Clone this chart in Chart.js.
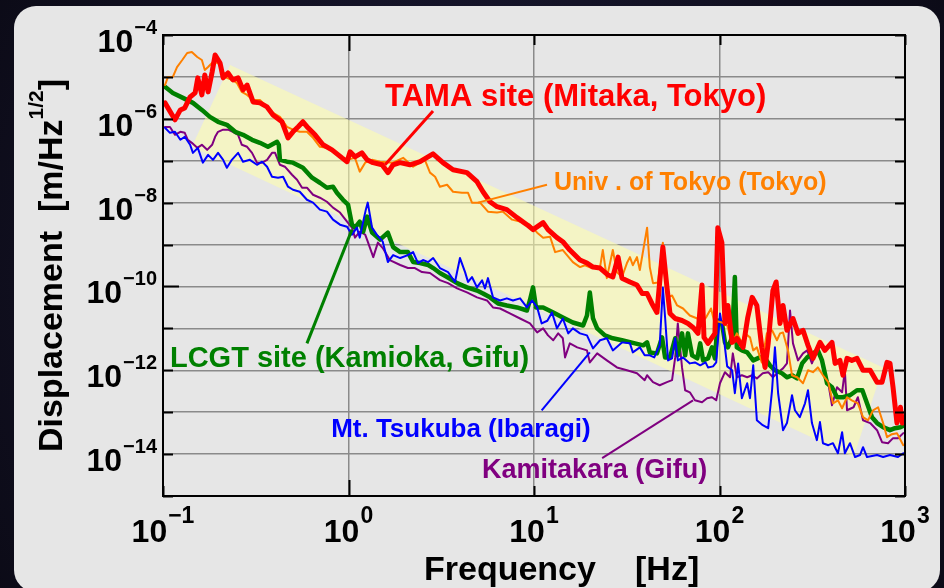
<!DOCTYPE html>
<html>
<head>
<meta charset="utf-8">
<script src="https://cdn.jsdelivr.net/npm/chart.js@4/dist/chart.umd.min.js"></script>
<style>
  html, body { margin: 0; padding: 0; background: #0b0a17; overflow: hidden; }
  canvas { display: block; }
</style>
</head>
<body>
<canvas id="chart" width="944" height="588"></canvas>
<script>
// Ground displacement spectra at candidate detector sites (frequency in Hz, displacement in m/Hz^1/2)

const tamaFreq = [
  0.1025,0.116,0.124,0.131,0.140,0.149,0.154,0.162,0.168,0.175,
  0.184,0.191,0.203,0.211,0.224,0.238,0.254,0.270,0.284,0.306,
  0.333,0.364,0.392,0.438,0.472,0.502,0.534,0.568,0.605,0.660,
  0.729,0.815,0.923,0.982,1.02,1.084,1.18,1.26,1.355,1.516,
  1.633,1.737,1.895,2.145,2.43,2.855,3.23,3.66,4.35,4.93,
  5.31,5.79,6.32,7.14,8.10,9.16,9.88,11.2,11.9,13.3,
  14.3,15.6,17.7,19.3,20.8,22.7,25.1,26.6,28.4,29.8,
  32.9,35.9,38.3,40.7,43.2,46.0,49.5,52.1,54.1,57.7,
  62.8,67.6,72.0,76.6,80.5,82.5,86.7,94.5,97.9,103,
  107,111,117,124,134,142,150,159,169,176,
  183,194,202,212,220,231,249,265,282,300,
  319,348,370,404,420,446,463,487,517,551,
  594,649,707,752,800,830,862,905,945,969,979
];
const tamaDisp = [
  2.4e-6,9.5e-7,1.63e-6,1.82e-6,3.33e-6,4.15e-6,9.5e-6,3.72e-6,1.11e-5,4.39e-6,
  1.31e-5,3.33e-5,2.15e-5,9.5e-6,1.24e-5,8.5e-6,9.5e-6,4.9e-6,6.4e-6,2.53e-6,
  2.4e-6,1.92e-6,1.24e-6,8.5e-7,3.52e-7,4.9e-7,6.4e-7,8.5e-7,6.1e-7,4.15e-7,
  2.4e-7,1.82e-7,1.17e-7,9.5e-8,1.63e-7,1.24e-7,1.54e-7,1.05e-7,9.0e-8,8.0e-8,
  5.2e-8,8.0e-8,9.0e-8,8.0e-8,9.5e-8,1.46e-7,9.0e-8,6.1e-8,5.2e-8,3.16e-8,
  1.82e-8,1.05e-8,8.0e-9,6.8e-9,4.39e-9,2.98e-9,2.27e-9,3.33e-9,2.27e-9,1.46e-9,
  1.17e-9,7.4e-10,4.27e-10,3.62e-10,2.9e-10,2.75e-10,1.87e-10,1.68e-10,5.0e-10,1.58e-10,
  1.28e-10,1.08e-10,6.8e-11,6.8e-11,3.93e-11,2.4e-11,8.7e-10,9.5e-11,2.27e-11,1.72e-11,
  1.54e-11,1.31e-11,1.05e-11,7.6e-12,1.08e-10,6.1e-12,4.39e-12,7.6e-12,2.53e-9,1.11e-9,
  1.31e-11,3.52e-11,4.63e-12,5.8e-12,3.52e-12,1.82e-11,5.5e-11,3.52e-11,3.52e-12,1.17e-12,
  4.39e-12,8.0e-11,1.28e-10,1.31e-11,3.52e-11,9.0e-12,1.72e-11,7.6e-12,9.0e-12,3.93e-12,
  1.92e-12,4.63e-12,2.98e-12,4.63e-12,1.46e-12,1.72e-12,7.6e-13,1.92e-12,1.72e-12,1.92e-12,
  1.0e-12,1.0e-12,5.2e-13,5.2e-13,1.54e-12,1.46e-12,3.93e-13,5.5e-14,1.31e-13,5.5e-14,6.4e-14
];

const univFreq = [
  0.1025,0.1064,0.113,0.119,0.127,0.135,0.143,0.153,0.162,0.168,
  0.175,0.186,0.198,0.211,0.221,0.235,0.250,0.266,0.284,0.306,
  0.333,0.364,0.392,0.427,0.466,0.502,0.546,0.597,0.644,0.701,
  0.765,0.825,0.900,0.982,1.084,1.15,1.23,1.34,1.48,1.737,
  1.97,2.23,2.58,2.75,2.93,3.11,3.40,3.66,4.09,4.41,
  4.63,5.12,5.65,6.32,6.81,7.62,8.4,9.5,10.4,11.2,
  12.2,13.0,14.3,16.2,17.7,18.8,20.5,22.7,23.5,24.7,
  26.6,28.0,29.8,31.7,32.9,34.1,35.9,37.2,40.7,42.1,
  43.8,46.6,49.5,52.8,55.5,59.1,63.6,69.2,75.9,79.6,
  84.6,90.0,93.4,103,110,117,124,132,137,146,
  152,159,169,180,192,204,212,220,234,246,
  262,282,300,319,339,361,386,409,435,458,
  487,517,557,594,632,673,716,762,800,850,905,979
];
const univDisp = [
  6.4e-6,1.0e-5,1.0e-5,1.72e-5,2.53e-5,3.72e-5,3.93e-5,2.98e-5,2.53e-5,1.46e-5,
  1.72e-5,2.27e-5,2.15e-5,1.31e-5,9.5e-6,8.5e-6,7.2e-6,4.39e-6,3.72e-6,2.83e-6,
  2.83e-6,1.92e-6,1.38e-6,1.11e-6,6.4e-7,5.5e-7,4.9e-7,4.9e-7,3.52e-7,2.15e-7,
  2.03e-7,1.63e-7,1.24e-7,1.05e-7,1.17e-7,5.5e-8,9.0e-8,1.05e-7,9.5e-8,9.0e-8,
  1.17e-7,7.2e-8,1.05e-7,5.2e-8,4.15e-8,2.4e-8,2.67e-8,1.82e-8,1.72e-8,1.72e-8,
  1.0e-8,1.0e-8,6.1e-9,5.8e-9,6.1e-9,3.93e-9,3.52e-9,2.98e-9,1.92e-9,1.46e-9,
  1.54e-9,6.6e-10,7.4e-10,3.82e-10,2.9e-10,3.2e-10,2.75e-10,2.9e-10,7.4e-10,1.58e-10,
  7.4e-10,2.2e-10,1.68e-10,3.62e-10,5.0e-10,3.2e-10,5.0e-10,2.47e-10,2.53e-9,2.9e-10,
  1.2e-10,1.25e-10,1.11e-9,5.5e-11,6.1e-11,3.52e-11,2.98e-11,2.03e-11,1.72e-11,1.38e-11,
  1.82e-11,2.98e-11,1.54e-11,1.38e-11,1.17e-11,4.39e-12,7.6e-12,4.63e-12,7.6e-12,6.1e-12,
  2.98e-12,3.52e-12,1.54e-12,7.6e-12,9.0e-12,5.2e-12,7.6e-12,8.0e-12,2.98e-12,7.6e-13,
  6.8e-13,4.9e-13,1.0e-12,9.0e-13,1.17e-12,7.6e-13,5.2e-13,1.63e-13,1.92e-13,1.24e-13,
  2.27e-13,1.92e-13,1.63e-13,7.6e-14,6.4e-14,1.11e-13,1.31e-13,5.5e-14,2.53e-14,2.98e-14,3.16e-14,1.63e-14
];

const lcgtFreq = [
  0.1025,0.113,0.128,0.145,0.162,0.179,0.198,0.221,0.245,0.270,
  0.302,0.333,0.368,0.412,0.421,0.427,0.466,0.502,0.568,0.636,
  0.701,0.765,0.825,0.866,0.934,0.994,1.044,1.084,1.15,1.20,
  1.26,1.34,1.48,1.63,1.74,1.90,2.09,2.23,2.43,2.69,
  2.86,3.11,3.40,3.85,4.35,4.93,5.31,5.79,6.40,7.14,
  8.10,9.16,9.5,9.88,10.25,11.2,12.7,14.3,16.2,18.4,
  19.3,20.0,20.8,21.9,24.1,26.6,29.8,35.0,38.8,40.7,
  42.1,46.0,49.0,50.9,54.1,57.7,59.6,62.8,65.3,67.6,
  71.2,75.9,78.7,81.6,86.7,91.1,94.5,97.9,103,107,
  111,117,121,124,132,141,152,165,176,187,
  199,217,231,246,262,279,297,319,339,357,
  380,404,430,463,505,551,589,624,664,707,
  762,830,883,945,1000
];
const lcgtDisp = [
  5.8e-6,4.15e-6,3.16e-6,2.4e-6,1.63e-6,1.11e-6,8.5e-7,7.2e-7,4.9e-7,4.15e-7,
  3.16e-7,2.67e-7,2.15e-7,2.83e-7,2.4e-7,1.05e-7,9.5e-8,9.0e-8,6.8e-8,3.93e-8,
  2.98e-8,2.27e-8,2.4e-8,1.72e-8,1.17e-8,9.0e-9,2.98e-9,2.53e-9,3.52e-9,2.03e-9,
  4.63e-9,1.92e-9,1.31e-9,1.92e-9,8.7e-10,6.6e-10,6.6e-10,3.82e-10,3.62e-10,3.25e-10,
  2.75e-10,2.09e-10,1.68e-10,1.2e-10,9.5e-11,8.0e-11,6.8e-11,5.5e-11,3.93e-11,3.52e-11,
  3.16e-11,2.67e-11,4.63e-11,9.5e-11,3.16e-11,3.16e-11,2.4e-11,1.82e-11,1.38e-11,1.17e-11,
  2.03e-11,7.2e-11,1.72e-11,1.0e-11,6.8e-12,5.8e-12,5.2e-12,4.39e-12,3.93e-12,4.63e-12,
  2.67e-12,2.53e-12,6.1e-12,2.03e-12,2.03e-12,5.8e-12,2.27e-12,7.6e-12,2.27e-12,7.6e-12,
  2.27e-12,1.92e-12,4.39e-12,1.72e-12,1.92e-12,3.52e-12,1.92e-12,1.54e-11,1.38e-11,4.63e-12,
  3.52e-12,6.1e-12,1.68e-10,3.52e-12,2.98e-12,2.67e-12,1.72e-12,2.03e-12,1.92e-12,1.31e-12,
  1.0e-12,8.5e-13,6.8e-13,7.6e-13,6.4e-13,1.46e-12,2.03e-12,2.53e-12,2.98e-12,1.72e-12,
  4.9e-13,3.93e-13,2.27e-13,2.27e-13,2.53e-13,3.33e-13,3.33e-13,1.63e-13,7.6e-14,5.5e-14,
  4.39e-14,3.72e-14,4.15e-14,4.39e-14,4.9e-14
];

const tsukubaFreq = [
  0.1025,0.109,0.116,0.124,0.131,0.140,0.145,0.154,0.164,0.175,
  0.186,0.198,0.211,0.221,0.235,0.254,0.270,0.294,0.321,0.342,
  0.364,0.387,0.417,0.444,0.472,0.502,0.546,0.597,0.644,0.701,
  0.765,0.825,0.900,0.982,1.044,1.11,1.15,1.20,1.24,1.27,
  1.34,1.42,1.53,1.63,1.74,1.90,2.09,2.23,2.37,2.52,
  2.69,2.86,3.11,3.44,3.75,3.99,4.25,4.41,4.63,4.93,
  5.25,5.44,5.65,6.01,6.56,7.14,7.70,8.41,9.16,9.77,
  10.4,11.0,11.8,12.5,13.3,14.3,15.3,16.2,17.7,19.3,
  20.8,22.7,24.7,26.6,29.8,32.9,34.1,37.2,39.5,42.1,
  44.5,47.6,49.5,50.9,52.8,55.5,57.7,59.6,63.6,69.2,
  73.7,78.7,84.1,86.7,92.3,96.0,100.6,104.4,110,117,
  121,126,132,141,146,152,159,171,183,192,
  199,207,220,231,246,255,271,289,300,315,
  335,348,361,386,409,435,458,474,505,538,
  572,594,624,707,762,830,917,979
];
const tsukubaDisp = [
  6.1e-7,4.63e-7,4.9e-7,3.16e-7,3.72e-7,2.4e-7,1.54e-7,2.03e-7,9.0e-8,1.38e-7,
  1.05e-7,1.54e-7,1.05e-7,6.8e-8,1.05e-7,1.54e-7,9.5e-8,1.05e-7,8.0e-8,9.5e-8,
  7.2e-8,4.15e-8,3.93e-8,4.15e-8,2.4e-8,2.03e-8,1.82e-8,1.17e-8,1.0e-8,6.8e-9,
  6.1e-9,3.93e-9,2.98e-9,2.67e-9,1.72e-9,2.53e-9,1.46e-9,3.52e-9,6.8e-9,1.0e-8,
  2.53e-9,1.72e-9,1.17e-9,3.82e-10,5.6e-10,4.76e-10,5.6e-10,6.6e-10,3.62e-10,4.27e-10,
  3.82e-10,4.76e-10,2.75e-10,2.2e-10,1.28e-10,4.76e-10,2.2e-10,1.28e-10,1.68e-10,9.5e-11,
  1.4e-10,9.0e-11,1.58e-10,5.5e-11,4.63e-11,5.2e-11,4.63e-11,5.2e-11,3.16e-11,4.63e-11,
  3.16e-11,1.31e-11,1.52e-11,2.4e-11,1.0e-11,1.72e-11,7.6e-12,1.0e-11,7.6e-12,6.8e-12,
  3.33e-12,5.2e-12,5.8e-12,2.98e-12,4.63e-12,4.39e-12,2.67e-12,3.52e-12,2.27e-12,2.27e-12,
  2.03e-12,3.93e-12,9.5e-11,1.82e-11,1.72e-12,1.92e-12,5.8e-12,1.72e-12,2.03e-12,1.46e-12,
  1.54e-12,1.31e-12,1.54e-12,1.17e-12,1.24e-12,1.54e-12,2.27e-11,9.0e-12,1.24e-12,1.0e-12,
  2.83e-13,1.46e-12,2.15e-13,4.9e-13,2.15e-13,1.31e-12,6.4e-14,4.9e-14,4.15e-14,3.33e-13,
  3.52e-12,2.83e-13,3.72e-14,5.5e-14,2.53e-13,1.11e-13,7.6e-14,1.63e-13,3.33e-13,5.5e-14,
  2.15e-14,5.8e-14,1.82e-14,1.63e-14,1.82e-14,1.05e-14,3.33e-14,1.05e-14,1.82e-14,8.5e-15,
  9.5e-15,1.46e-14,8.5e-15,9.5e-15,8.5e-15,9.5e-15,8.5e-15,1.05e-14
];

const kamitakaraFreq = [
  0.1025,0.109,0.116,0.124,0.131,0.136,0.143,0.153,0.162,0.173,
  0.184,0.191,0.198,0.211,0.224,0.238,0.254,0.266,0.284,0.302,
  0.321,0.342,0.364,0.387,0.402,0.427,0.454,0.496,0.528,0.562,
  0.597,0.644,0.701,0.765,0.825,0.900,0.982,1.044,1.084,1.15,
  1.23,1.27,1.36,1.44,1.53,1.67,1.90,2.09,2.28,2.49,
  2.75,3.11,3.44,3.85,4.35,4.93,5.58,6.01,6.56,7.41,
  8.41,9.51,10.4,11.2,11.9,12.7,13.5,14.3,14.7,15.6,
  17.1,19.3,20.0,21.9,24.7,28.0,31.7,35.9,39.5,40.7,
  43.8,47.6,52.1,55.5,57.7,59.6,62.8,65.3,69.2,73.7,
  80.5,85.7,91.1,96.0,100.6,107,114,118,124,132,
  141,150,159,171,183,194,207,220,231,240,
  249,265,282,297,315,335,348,361,386,404,
  430,458,474,487,528,557,594,649,707,752,
  810,862,917,979
];
const kamitakaraDisp = [
  6.4e-7,6.4e-7,4.15e-7,4.9e-7,4.63e-7,3.16e-7,2.67e-7,2.03e-7,2.4e-7,1.82e-7,
  2.4e-7,3.72e-7,4.9e-7,5.5e-7,5.5e-7,4.9e-7,4.15e-7,2.4e-7,2.15e-7,1.54e-7,
  9.0e-8,9.0e-8,1.05e-7,1.54e-7,1.54e-7,8.0e-8,7.2e-8,4.63e-8,3.52e-8,2.27e-8,
  2.27e-8,1.54e-8,1.31e-8,1.05e-8,7.6e-9,5.8e-9,3.52e-9,2.53e-9,1.46e-9,2.03e-9,
  1.72e-9,1.17e-9,5.0e-10,1.11e-9,8.25e-10,4.27e-10,3.25e-10,2.75e-10,2.75e-10,2.2e-10,
  2.09e-10,1.42e-10,1.2e-10,9.0e-11,7.2e-11,5.5e-11,4.63e-11,3.16e-11,2.98e-11,2.27e-11,
  1.72e-11,1.31e-11,8.0e-12,1.0e-11,6.8e-12,5.2e-12,7.6e-12,5.8e-12,2.03e-12,4.39e-12,
  3.52e-12,2.98e-12,1.54e-12,2.53e-12,1.72e-12,1.17e-12,1.0e-12,8.5e-13,5.8e-13,7.6e-13,
  5.2e-13,4.39e-13,5.2e-13,5.8e-13,2.03e-12,1.31e-11,1.17e-12,3.33e-13,2.98e-13,1.92e-13,
  1.72e-13,2.15e-13,2.27e-13,1.92e-13,4.9e-13,9.0e-13,6.8e-13,2.53e-12,6.8e-13,7.6e-13,
  6.8e-13,7.6e-13,6.4e-13,8.5e-13,9.0e-13,6.8e-13,9.0e-13,1.11e-12,1.46e-12,2.67e-11,
  4.39e-12,1.72e-12,2.53e-12,2.98e-12,1.46e-12,2.98e-12,2.53e-12,1.17e-12,4.9e-13,1.46e-13,
  3.93e-13,2.98e-13,1.0e-12,1.11e-13,1.31e-13,2.27e-13,6.4e-14,5.5e-14,3.72e-14,1.92e-14,
  1.82e-14,2.4e-14,2.4e-14,3.16e-14
];

// Shaded reference band (closed outline: corner frequencies and levels)
const bandFreq = [0.230, 762, 528, 0.143, 0.230];
const bandDisp = [1.92e-5, 1.17e-12, 8.5e-15, 2.15e-7, 1.92e-5];

// Axis decades and labelled exponents
const xDecades = [0.1, 1, 10, 100, 1000];
const yDecades = [1e-15,1e-14,1e-13,1e-12,1e-11,1e-10,1e-9,1e-8,1e-7,1e-6,1e-5,1e-4];
const xLabelExps = [-1, 0, 1, 2, 3];
const yLabelExps = [-14, -12, -10, -8, -6, -4];

const FONT = '"Liberation Sans", Arial, Helvetica, sans-serif';

function pts(fs, vs) {
  const n = Math.min(fs.length, vs.length);
  const out = [];
  for (let i = 0; i < n; i++) out.push({ x: fs[i], y: vs[i] });
  return out;
}

// Site labels with leader lines, anchored in data units (frequency, displacement)
const notes = [
  { text: 'TAMA site (Mitaka, Tokyo)', color: '#ff0000', size: 31, at: [1.574, 2.03e-6],
    lead: [[2.855, 1.54e-6], [1.574, 8.0e-8]], lw: 3 },
  { text: 'Univ . of Tokyo (Tokyo)', color: '#ff8000', size: 25, at: [12.8, 2.03e-8],
    lead: [[11.75, 2.67e-8], [4.99, 1.0e-8]], lw: 2 },
  { text: 'LCGT site (Kamioka, Gifu)', color: '#008000', size: 29, at: [0.109, 1.17e-12],
    lead: [[0.597, 4.39e-12], [1.044, 2.27e-9]], lw: 3 },
  { text: 'Mt. Tsukuba (Ibaragi)', color: '#0000ff', size: 26, at: [0.806, 2.53e-14],
    lead: [[11.0, 1.11e-13], [20.0, 2.67e-12]], lw: 2 },
  { text: 'Kamitakara (Gifu)', color: '#800080', size: 27, at: [5.25, 2.67e-15],
    lead: [[23.3, 8.0e-15], [72.0, 1.92e-13]], lw: 2 }
];

const backdrop = {
  id: 'backdrop',
  beforeDraw(chart) {
    const ctx = chart.ctx, W = chart.width, H = chart.height;
    ctx.save();
    const g = ctx.createRadialGradient(W * 0.5, H * 0.45, 40, W * 0.5, H * 0.5, W * 0.75);
    g.addColorStop(0, '#1c1b36');
    g.addColorStop(1, '#07060e');
    ctx.fillStyle = g;
    ctx.fillRect(0, 0, W, H);
    ctx.fillStyle = '#e6e6e6';
    ctx.beginPath();
    ctx.roundRect(14, 6, 926, 586, 22);
    ctx.fill();
    ctx.restore();
  }
};

function powerLabel(ctx, exp, baseSize, expSize) {
  ctx.font = 'bold ' + baseSize + 'px ' + FONT;
  const wb = ctx.measureText('10').width;
  const es = exp < 0 ? '\u2212' + Math.abs(exp) : String(exp);
  ctx.font = 'bold ' + expSize + 'px ' + FONT;
  const we = ctx.measureText(es).width;
  return { wb, we, es };
}

const axesDeco = {
  id: 'axesDeco',
  afterDatasetsDraw(chart) {
    const { ctx, chartArea: a, scales: { x, y } } = chart;
    ctx.save();
    ctx.strokeStyle = '#000';
    ctx.lineWidth = 2;
    ctx.strokeRect(a.left, a.top, a.right - a.left, a.bottom - a.top);

    // inward ticks on all four sides
    ctx.beginPath();
    yDecades.forEach(v => {
      const py = Math.round(y.getPixelForValue(v)) + 0.5;
      const len = Math.abs(Math.log10(v) + 10) < 0.01 ? 16 : 10;
      ctx.moveTo(a.left, py); ctx.lineTo(a.left + len, py);
      ctx.moveTo(a.right, py); ctx.lineTo(a.right - len, py);
    });
    xDecades.forEach(v => {
      const px = Math.round(x.getPixelForValue(v)) + 0.5;
      const len = Math.abs(Math.log10(v)) < 0.01 ? 16 : 10;
      ctx.moveTo(px, a.bottom); ctx.lineTo(px, a.bottom - len);
      ctx.moveTo(px, a.top); ctx.lineTo(px, a.top + len);
    });
    ctx.stroke();

    ctx.fillStyle = '#000';
    ctx.textBaseline = 'alphabetic';
    ctx.textAlign = 'left';

    // y tick labels: 10 with raised exponent, right-aligned to the axis
    yLabelExps.forEach(e => {
      const py = y.getPixelForValue(Math.pow(10, e));
      const m = powerLabel(ctx, e, 32, 20);
      const right = a.left - 6;
      const start = right - m.wb - m.we - 1;
      ctx.font = 'bold 32px ' + FONT;
      ctx.fillText('10', start, py + 17);
      ctx.font = 'bold 20px ' + FONT;
      ctx.fillText(m.es, start + m.wb + 1, py - 1);
    });

    // x tick labels centred under each decade
    xLabelExps.forEach(e => {
      const px = x.getPixelForValue(Math.pow(10, e));
      const m = powerLabel(ctx, e, 32, 23);
      const start = px - (m.wb + m.we + 1) / 2;
      ctx.font = 'bold 32px ' + FONT;
      ctx.fillText('10', start, a.bottom + 46);
      ctx.font = 'bold 23px ' + FONT;
      ctx.fillText(m.es, start + m.wb + 1, a.bottom + 27);
    });

    // x axis title
    ctx.font = 'bold 34px ' + FONT;
    ctx.fillText('Frequency', a.left + 261, a.bottom + 84);
    ctx.fillText('[Hz]', a.left + 472, a.bottom + 84);

    // y axis title, rotated, with 1/2 superscript
    const segs = [
      { t: 'Displacement  [m/Hz', f: 'bold 34px ' + FONT, dy: 0 },
      { t: '1/2', f: 'bold 21px ' + FONT, dy: -19 },
      { t: ']', f: 'bold 34px ' + FONT, dy: 0 }
    ];
    let total = 0;
    segs.forEach(s => { ctx.font = s.f; s.w = ctx.measureText(s.t).width; total += s.w; });
    ctx.translate(62, (a.top + a.bottom) / 2);
    ctx.rotate(-Math.PI / 2);
    let cx = -total / 2;
    segs.forEach(s => { ctx.font = s.f; ctx.fillText(s.t, cx, s.dy); cx += s.w; });
    ctx.restore();

    // site labels and leader lines
    ctx.save();
    notes.forEach(n => {
      ctx.strokeStyle = n.color;
      ctx.lineWidth = n.lw;
      ctx.beginPath();
      ctx.moveTo(x.getPixelForValue(n.lead[0][0]), y.getPixelForValue(n.lead[0][1]));
      ctx.lineTo(x.getPixelForValue(n.lead[1][0]), y.getPixelForValue(n.lead[1][1]));
      ctx.stroke();
      ctx.fillStyle = n.color;
      ctx.font = 'bold ' + n.size + 'px ' + FONT;
      ctx.textAlign = 'left';
      ctx.textBaseline = 'alphabetic';
      ctx.fillText(n.text, x.getPixelForValue(n.at[0]), y.getPixelForValue(n.at[1]));
    });
    ctx.restore();
  }
};

function lineSet(label, f, v, color, width) {
  return {
    label, data: pts(f, v), borderColor: color, backgroundColor: color,
    borderWidth: width, pointRadius: 0, fill: false, tension: 0,
    borderJoinStyle: 'round', borderCapStyle: 'round'
  };
}

// first dataset is painted last (on top)
const datasets = [
  lineSet('TAMA site (Mitaka, Tokyo)', tamaFreq, tamaDisp, '#ff0000', 5),
  lineSet('Univ. of Tokyo (Tokyo)', univFreq, univDisp, '#ff8000', 2),
  lineSet('Mt. Tsukuba (Ibaragi)', tsukubaFreq, tsukubaDisp, '#0000ff', 2),
  lineSet('LCGT site (Kamioka, Gifu)', lcgtFreq, lcgtDisp, '#008000', 4.5),
  lineSet('Kamitakara (Gifu)', kamitakaraFreq, kamitakaraDisp, '#800080', 2),
  {
    label: 'band', data: pts(bandFreq, bandDisp), fill: 'shape',
    backgroundColor: 'rgba(255,255,170,0.55)', borderColor: 'rgba(0,0,0,0)',
    borderWidth: 1, pointRadius: 0, tension: 0
  }
];

const gridStyle = { color: '#8a8a8a', lineWidth: 1.5, drawTicks: false };

new Chart(document.getElementById('chart'), {
  type: 'line',
  data: { datasets },
  options: {
    responsive: false,
    animation: false,
    devicePixelRatio: 1,
    events: [],
    layout: { padding: { left: 0, top: 35, right: 39, bottom: 0 } },
    plugins: { legend: { display: false }, tooltip: { enabled: false } },
    scales: {
      x: {
        type: 'logarithmic', min: 0.1, max: 1000,
        afterBuildTicks(s) { s.ticks = xDecades.map(v => ({ value: v })); },
        afterFit(s) { s.height = 92; },
        ticks: { display: false },
        grid: gridStyle,
        border: { display: false }
      },
      y: {
        type: 'logarithmic', min: 1e-15, max: 1e-4,
        afterBuildTicks(s) { s.ticks = yDecades.map(v => ({ value: v })); },
        afterFit(s) { s.width = 163; },
        ticks: { display: false },
        grid: gridStyle,
        border: { display: false }
      }
    }
  },
  plugins: [backdrop, axesDeco]
});
</script>
</body>
</html>
